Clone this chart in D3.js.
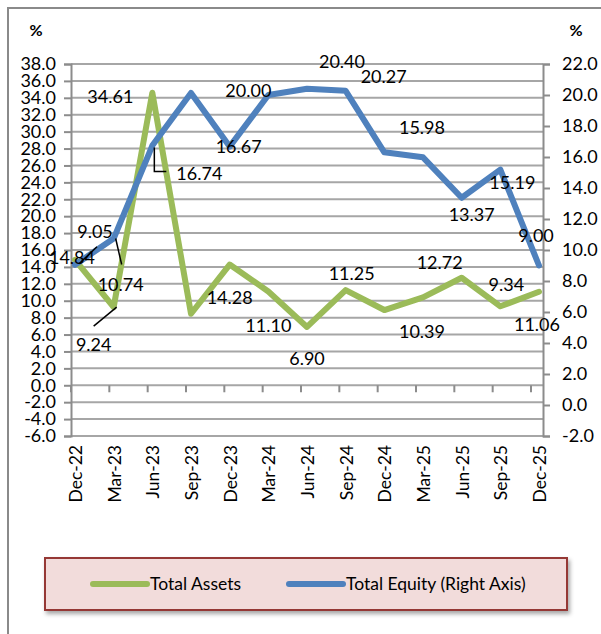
<!DOCTYPE html>
<html>
<head>
<meta charset="utf-8">
<script src="https://cdn.jsdelivr.net/npm/d3@7"></script>
<style>
  html, body { margin: 0; padding: 0; background: #fff; }
  svg { display: block; font-family: Lato, "Open Sans", sans-serif; }
</style>
</head>
<body>
<svg id="chart" width="601" height="634"></svg>
<script>
// Quarterly growth rates (%)
const categories = ["Dec-22", "Mar-23", "Jun-23", "Sep-23", "Dec-23", "Mar-24", "Jun-24",
                    "Sep-24", "Dec-24", "Mar-25", "Jun-25", "Sep-25", "Dec-25"];
const totalAssets = [14.84, 9.24, 34.61, 8.46, 14.28, 11.10, 6.90, 11.25, 8.90, 10.39, 12.72, 9.34, 11.06];
const totalEquity = [9.05, 10.74, 16.74, 20.13, 16.67, 20.00, 20.40, 20.27, 16.30, 15.98, 13.37, 15.19, 9.00];
const leftTicks = d3.range(-6, 38.001, 2);
const rightTicks = d3.range(-2, 22.001, 2);
const seriesNames = ["Total Assets", "Total Equity (Right Axis)"];

// Label placement: offset of each value label from its point (null = no label)
const assetsLabelOffset = [[-3, -2], [-20, 38], [-42, 4], null, [0, 33], [0, 34], [0, 32],
                           [6, -16], null, [-1, 34], [-22, -15], [6, -22], [-2, 33]];
const equityLabelOffset = [[20, -33], [7, 46], [47, 28], null, [9, 0], [-20, -4], [35, -27],
                           [38, -14], null, [-1, -30], [10, 17], [12, 13], [-3, -30]];
// Leader lines joining a moved label back to its point
const leaders = [
  { series: "equity", i: 0, from: [4, -1], to: [2, 15], elbow: false },
  { series: "equity", i: 1, from: [2, 0], to: [1, -20], elbow: false },
  { series: "assets", i: 1, from: [3, 0], to: [0, -19], elbow: false },
  { series: "equity", i: 2, from: [2, 2], to: [-33, -2], elbow: true }
];

const green = "#9BBB59", blue = "#4F81BD", grid = "#a6a6a6", axisCol = "#8c8c8c";

const svg = d3.select("#chart");

// Outer chart frame
svg.append("path")
  .attr("d", "M8,634 V8 H601")
  .attr("fill", "none").attr("stroke", "#8a8a8a").attr("stroke-width", 2);

const plot = { left: 71, right: 543, top: 64, bottom: 436 };

const x = d3.scalePoint().domain(categories).range([75, 539]);
const xTick = d3.scalePoint().domain(categories).range([plot.left, 531]);
const yL = d3.scaleLinear().domain([-6, 38]).range([plot.bottom, plot.top]);
const yR = d3.scaleLinear().domain([-2, 22]).range([plot.bottom, plot.top]);

// Horizontal gridlines
svg.append("g").selectAll("line").data(leftTicks).join("line")
  .attr("x1", plot.left).attr("x2", plot.right)
  .attr("y1", d => yL(d)).attr("y2", d => yL(d))
  .attr("stroke", grid).attr("stroke-width", 2);

// Left axis
const gL = svg.append("g").attr("transform", `translate(${plot.left},0)`)
  .call(d3.axisLeft(yL).tickValues(leftTicks).tickSize(7).tickPadding(8)
    .tickFormat(d => d.toFixed(1)));
// Right axis
const gR = svg.append("g").attr("transform", `translate(${plot.right},0)`)
  .call(d3.axisRight(yR).tickValues(rightTicks).tickSize(7).tickPadding(12)
    .tickFormat(d => d.toFixed(1)));
[gL, gR].forEach(g => {
  g.select(".domain").attr("stroke", axisCol).attr("stroke-width", 2);
  g.selectAll(".tick line").attr("stroke", axisCol).attr("stroke-width", 2);
  g.selectAll(".tick text").attr("fill", "#000").style("font-size", "18px")
    .style("font-family", "Lato, 'Open Sans', sans-serif");
});

// Category tick marks on the zero line
const zeroY = yL(0);
svg.append("g").selectAll("line").data(categories).join("line")
  .attr("x1", d => xTick(d)).attr("x2", d => xTick(d))
  .attr("y1", zeroY).attr("y2", zeroY + 7)
  .attr("stroke", axisCol).attr("stroke-width", 2);

// Category labels (rotated)
svg.append("g").selectAll("text").data(categories).join("text")
  .attr("transform", d => `translate(${x(d) + 1},445) rotate(-90)`)
  .attr("text-anchor", "end").attr("dy", "0.35em")
  .style("font-size", "17.5px").text(d => d);

// Unit labels
svg.append("text").attr("x", 36).attr("y", 36).attr("text-anchor", "middle")
  .style("font-size", "16px").style("font-weight", "bold").text("%");
svg.append("text").attr("x", 576).attr("y", 36).attr("text-anchor", "middle")
  .style("font-size", "16px").style("font-weight", "bold").text("%");

// Lines
const lineL = d3.line().x((d, i) => x(categories[i])).y(d => yL(d));
const lineR = d3.line().x((d, i) => x(categories[i])).y(d => yR(d));
svg.append("path").datum(totalAssets).attr("d", lineL)
  .attr("fill", "none").attr("stroke", green).attr("stroke-width", 6)
  .attr("stroke-linejoin", "round").attr("stroke-linecap", "round");
svg.append("path").datum(totalEquity).attr("d", lineR)
  .attr("fill", "none").attr("stroke", blue).attr("stroke-width", 6)
  .attr("stroke-linejoin", "round").attr("stroke-linecap", "round");

// Value labels
function pointOf(series, i) {
  return series === "assets"
    ? [x(categories[i]), yL(totalAssets[i])]
    : [x(categories[i]), yR(totalEquity[i])];
}
function labelOf(series, i) {
  const p = pointOf(series, i);
  const o = series === "assets" ? assetsLabelOffset[i] : equityLabelOffset[i];
  return [p[0] + o[0], p[1] + o[1]];
}
const labelData = [];
totalAssets.forEach((v, i) => { if (assetsLabelOffset[i]) labelData.push({ s: "assets", i, v }); });
totalEquity.forEach((v, i) => { if (equityLabelOffset[i]) labelData.push({ s: "equity", i, v }); });

// Leader lines
svg.append("g").selectAll("path").data(leaders).join("path")
  .attr("d", d => {
    const p = pointOf(d.series, d.i), l = labelOf(d.series, d.i);
    const a = [p[0] + d.from[0], p[1] + d.from[1]];
    const b = [l[0] + d.to[0], l[1] + d.to[1]];
    return d.elbow ? `M${a[0]},${a[1]} V${b[1]} H${b[0]}` : `M${a[0]},${a[1]} L${b[0]},${b[1]}`;
  })
  .attr("fill", "none").attr("stroke", "#000").attr("stroke-width", 1.5);

svg.append("g").selectAll("text").data(labelData).join("text")
  .attr("x", d => labelOf(d.s, d.i)[0])
  .attr("y", d => labelOf(d.s, d.i)[1])
  .attr("text-anchor", "middle").attr("dy", "0.35em")
  .style("font-size", "18px").text(d => d.v.toFixed(2));

// Legend
const defs = svg.append("defs");
const f = defs.append("filter").attr("id", "shadow").attr("x", "-5%").attr("y", "-20%")
  .attr("width", "115%").attr("height", "160%");
f.append("feDropShadow").attr("dx", 2).attr("dy", 3).attr("stdDeviation", 2)
  .attr("flood-color", "#000").attr("flood-opacity", 0.35);

const lg = svg.append("g");
lg.append("rect").attr("x", 45).attr("y", 558).attr("width", 522).attr("height", 52)
  .attr("fill", "#F2DCDB").attr("stroke", "#953735").attr("stroke-width", 2)
  .attr("filter", "url(#shadow)");
const items = [
  { name: seriesNames[0], color: green, x: 93 },
  { name: seriesNames[1], color: blue, x: 289 }
];
items.forEach(it => {
  lg.append("line").attr("x1", it.x).attr("x2", it.x + 54).attr("y1", 584).attr("y2", 584)
    .attr("stroke", it.color).attr("stroke-width", 6).attr("stroke-linecap", "round");
  lg.append("text").attr("x", it.x + 57).attr("y", 584).attr("dy", "0.35em")
    .style("font-size", "17.5px").text(it.name);
});
</script>
</body>
</html>
